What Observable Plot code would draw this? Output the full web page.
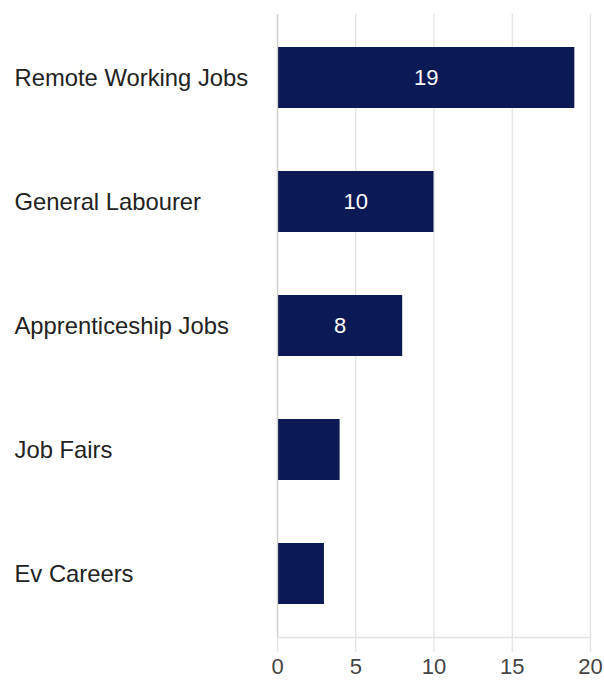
<!DOCTYPE html>
<html><head><meta charset="utf-8">
<script src="https://cdn.jsdelivr.net/npm/d3@7"></script>
<script src="https://cdn.jsdelivr.net/npm/@observablehq/plot@0.6"></script>
<style>body{margin:0;background:#fff;font-family:"Liberation Sans",Arial,sans-serif}</style>
</head><body><div id="chart"></div>
<script>
const categories = ["Remote Working Jobs","General Labourer","Apprenticeship Jobs","Job Fairs","Ev Careers"];
const values = [19, 10, 8, 4, 3];
const xTicks = [0, 5, 10, 15, 20];
const data = categories.map((c, i) => ({category: c, value: values[i]}));

const chart = Plot.plot({
  width: 604, height: 682,
  marginLeft: 277, marginRight: 14, marginTop: 14, marginBottom: 45,
  style: {fontFamily: "'Liberation Sans', Arial, sans-serif", background: "#fff"},
  x: {domain: [0, 20]},
  y: {domain: categories, paddingInner: 0.51, paddingOuter: 0.255},
  marks: [
    Plot.gridX(xTicks, {stroke: "#e3e3e3", strokeOpacity: 1, strokeWidth: 1.3}),
    Plot.frame({anchor: "bottom", stroke: "#e3e3e3", strokeWidth: 1.3}),
    Plot.axisX(xTicks, {tickSize: 15, stroke: "#e3e3e3", strokeOpacity: 1, strokeWidth: 1.3, tickPadding: 6, fontSize: 22, fill: "#444", label: null}),
    Plot.axisY({tickSize: 0, tickPadding: 263, textAnchor: "start", fontSize: 23.8, fill: "#222", label: null}),
    Plot.barX(data, {x: "value", y: "category", fill: "#0b1a55"}),
    Plot.ruleX([0], {stroke: "#d0d0d0", strokeWidth: 1.3}),
    Plot.text(data.filter(d => d.value >= 8), {x: d => d.value / 2, y: "category", text: d => String(d.value), fill: "#fff", fontSize: 22})
  ]
});
document.getElementById("chart").append(chart);
</script></body></html>
